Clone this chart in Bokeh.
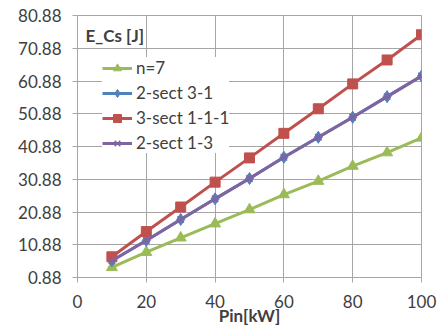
from bokeh.plotting import figure
from bokeh.models import FixedTicker, PrintfTickFormatter, Range1d, Legend, LegendItem, Label
from bokeh.embed import file_html
from bokeh.resources import INLINE

pin = [10, 20, 30, 40, 50, 60, 70, 80, 90, 100]
n7 = [3.95, 8.6, 13.0, 17.3, 21.6, 26.2, 30.3, 34.9, 39.0, 43.5]
sect2_31 = [6.0, 12.2, 18.6, 24.9, 31.1, 37.6, 43.7, 49.8, 56.1, 62.4]
sect3_111 = [7.2, 14.9, 22.4, 30.0, 37.4, 44.9, 52.4, 60.0, 67.3, 75.0]
sect2_13 = [6.0, 12.2, 18.6, 24.9, 31.1, 37.6, 43.7, 49.8, 56.1, 62.4]
y_ticks = [0.88, 10.88, 20.88, 30.88, 40.88, 50.88, 60.88, 70.88, 80.88]
x_ticks = [0, 20, 40, 60, 80, 100]

FONT = "Lato"
TXT = "#404040"
GRID = "#A6A6A6"

p = figure(width=437, height=331, output_backend="svg", toolbar_location=None,
           x_range=Range1d(0, 100), y_range=Range1d(0.88, 80.88),
           frame_width=344, frame_height=262,
           min_border_left=77, min_border_right=16, min_border_top=15, min_border_bottom=54)
p.background_fill_color = "white"
p.border_fill_color = "white"
p.outline_line_color = GRID

for ax in (p.xaxis[0], p.yaxis[0]):
    ax.axis_line_color = GRID
    ax.major_tick_line_color = GRID
    ax.major_tick_out = 5
    ax.major_tick_in = 0
    ax.minor_tick_line_color = None
    ax.major_label_text_font = FONT
    ax.major_label_text_font_size = "17px"
    ax.major_label_text_color = TXT

p.xaxis.ticker = FixedTicker(ticks=x_ticks)
p.yaxis.ticker = FixedTicker(ticks=y_ticks)
p.yaxis.formatter = PrintfTickFormatter(format="%.2f")
p.xaxis.major_label_standoff = 12
p.yaxis.major_label_standoff = 11
p.xaxis.axis_label = "Pin[kW]"
p.xaxis.axis_label_text_font = FONT
p.xaxis.axis_label_text_font_style = "bold"
p.xaxis.axis_label_text_font_size = "17px"
p.xaxis.axis_label_text_color = TXT
p.xaxis.axis_label_standoff = -6

p.xgrid.ticker = FixedTicker(ticks=x_ticks)
p.ygrid.ticker = FixedTicker(ticks=y_ticks)
p.grid.grid_line_color = GRID
p.grid.grid_line_width = 1

G, B, R, P = "#9BBB59", "#4F81BD", "#C0504D", "#8064A2"

l1 = p.line(pin, n7, line_color=G, line_width=3)
m1 = p.scatter(pin, n7, marker="triangle", size=11, fill_color=G, line_color=G)
l2 = p.line(pin, sect2_31, line_color=B, line_width=3)
m2 = p.scatter(pin, sect2_31, marker="diamond", size=12, fill_color=B, line_color=B)
l3 = p.line(pin, sect3_111, line_color=R, line_width=3)
m3 = p.scatter(pin, sect3_111, marker="square", size=10, fill_color=R, line_color=R)
l4 = p.line(pin, sect2_13, line_color=P, line_width=3)
m4 = p.scatter(pin, sect2_13, marker="x", size=9, line_color=P, line_width=1.5)

legend = Legend(items=[
    LegendItem(label="n=7", renderers=[l1, m1]),
    LegendItem(label="2-sect 3-1", renderers=[l2, m2]),
    LegendItem(label="3-sect 1-1-1", renderers=[l3, m3]),
    LegendItem(label="2-sect 1-3", renderers=[l4, m4]),
], location=(25, 124))
legend.label_text_font = FONT
legend.label_text_font_size = "17px"
legend.label_text_color = TXT
legend.glyph_width = 30
legend.glyph_height = 20
legend.label_height = 20
legend.spacing = 4
legend.padding = 3
legend.margin = 0
legend.label_standoff = 4
legend.border_line_color = None
legend.background_fill_color = "white"
legend.background_fill_alpha = 1
p.add_layout(legend, "center")

title = Label(x=8, y=242, x_units="screen", y_units="screen", text="E_Cs [J]",
              text_font=FONT, text_font_style="bold", text_font_size="17px",
              text_color=TXT, text_baseline="middle")
p.add_layout(title)

open("out.html", "w").write(file_html(p, INLINE))
